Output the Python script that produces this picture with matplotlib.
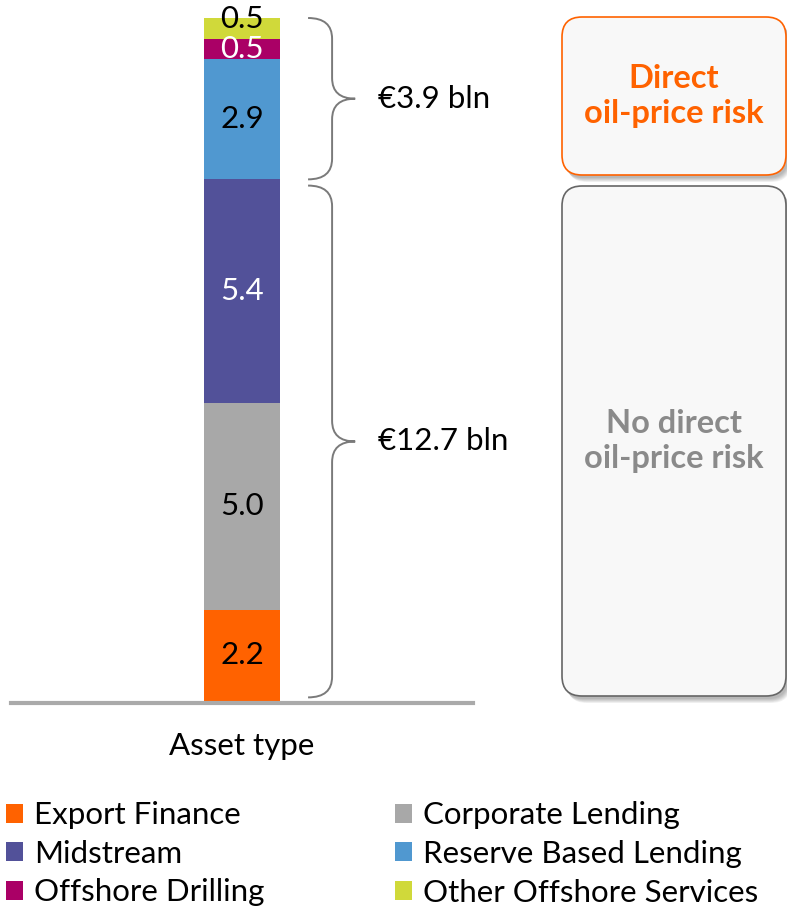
import numpy as np
import matplotlib.pyplot as plt
from matplotlib.patches import Patch, FancyBboxPatch, PathPatch
from matplotlib.path import Path

plt.rcParams['font.family'] = ['Lato', 'DejaVu Sans']

# exposure by asset type, bottom to top (EUR bln)
segments = ['Export Finance', 'Corporate Lending', 'Midstream',
            'Reserve Based Lending', 'Offshore Drilling', 'Other Offshore Services']
values = [2.2, 5.0, 5.4, 2.9, 0.5, 0.5]
colors = ['#ff6200', '#a8a8a8', '#525199', '#5098d0', '#aa0066', '#d0d93a']
label_colors = ['black', 'black', 'white', 'black', 'white', 'black']

# groups covered by the braces: (first segment, last segment, label)
groups = [(0, 2, '€12.7 bln'), (3, 5, '€3.9 bln')]
box_titles = ['No direct\noil-price risk', 'Direct\noil-price risk']

FS = 22.5
W, H = 787, 907
fig = plt.figure(figsize=(W / 100, H / 100), dpi=100)

ax = fig.add_axes([11 / W, (H - 700.7) / H, 462 / W, 682.7 / H])
ax.set_xlim(-1, 1)
ax.set_ylim(0, sum(values))

bottom = 0
for i, (v, c, tc) in enumerate(zip(values, colors, label_colors)):
    ax.bar(0, v, width=0.333, bottom=bottom, color=c, linewidth=0)
    # the topmost label sits a little higher so the two small ones don't collide
    nudge = 0.22 if i == len(values) - 1 else 0
    ax.text(0, bottom + v / 2 + nudge, f'{v:.1f}', ha='center', va='center',
            fontsize=FS, color=tc)
    bottom += v

for s in ['top', 'left', 'right']:
    ax.spines[s].set_visible(False)
ax.spines['bottom'].set_color('#aaaaaa')
ax.spines['bottom'].set_linewidth(3)
ax.spines['bottom'].set_position(('data', -0.05))
ax.set_xticks([])
ax.set_yticks([])
ax.set_xlabel('Asset type', fontsize=FS, labelpad=21)


def brace(ax, y0, y1, x0=0.286, xm=0.39, xt=0.49, r=0.5):
    mid = (y0 + y1) / 2
    verts = [(x0, y1), (xm, y1), (xm, y1 - r),
             (xm, mid + r),
             (xm, mid), (xt, mid),
             (xm, mid), (xm, mid - r),
             (xm, y0 + r),
             (xm, y0), (x0, y0)]
    codes = [Path.MOVETO, Path.CURVE3, Path.CURVE3,
             Path.LINETO,
             Path.CURVE3, Path.CURVE3,
             Path.CURVE3, Path.CURVE3,
             Path.LINETO,
             Path.CURVE3, Path.CURVE3]
    ax.add_patch(PathPatch(Path(verts, codes), fill=False, edgecolor='#7a7a7a',
                           linewidth=1.4, clip_on=False))
    return mid


cum = np.concatenate([[0], np.cumsum(values)])
gaps = [(0.08, 0.15), (0.0, 0.0)]
for (i0, i1, txt), (g0, g1) in zip(groups, gaps):
    mid = brace(ax, cum[i0] + g0, cum[i1 + 1] - g1)
    ax.text(0.589, mid, txt, ha='left', va='center', fontsize=FS)

# rounded boxes on the right, in pixel coordinates
ov = fig.add_axes([0, 0, 1, 1], zorder=-1)
ov.set_xlim(0, W)
ov.set_ylim(H, 0)
ov.axis('off')

boxes = [(562, 186, 224, 510, '#666666', '#8a8a8a'),
         (562, 17, 224, 158, '#ff6200', '#ff6200')]
for (bx, by, bw, bh, ec, tc), title in zip(boxes, box_titles):
    for k in range(6):
        ov.add_patch(FancyBboxPatch((bx + 2 + k * 0.6, by + 3 + k * 0.8), bw, bh,
                                    boxstyle='round,pad=0,rounding_size=20',
                                    facecolor='black', edgecolor='none',
                                    alpha=0.05))
    ov.add_patch(FancyBboxPatch((bx, by), bw, bh,
                                boxstyle='round,pad=0,rounding_size=20',
                                facecolor='#f8f8f8', edgecolor=ec, linewidth=1.2))
    ty = by + 79 if bh < 200 else by + 255
    ov.text(bx + bw / 2, ty, title, ha='center', va='center', fontsize=23.5,
            fontweight='bold', color=tc, linespacing=1.22)

# legend, three rows by two columns
order = [0, 2, 4, 1, 3, 5]
handles = [Patch(facecolor=colors[i], edgecolor='none', label=segments[i]) for i in order]
fig.legend(handles=handles, loc='upper left', bbox_to_anchor=(0.0, 1 - 795 / H),
           ncol=2, frameon=False, fontsize=FS, handlelength=0.55, handleheight=0.55,
           handletextpad=0.35, columnspacing=4.15, labelspacing=0.34,
           borderpad=0.2, borderaxespad=0.0)

fig.savefig('out.png', dpi=100)
